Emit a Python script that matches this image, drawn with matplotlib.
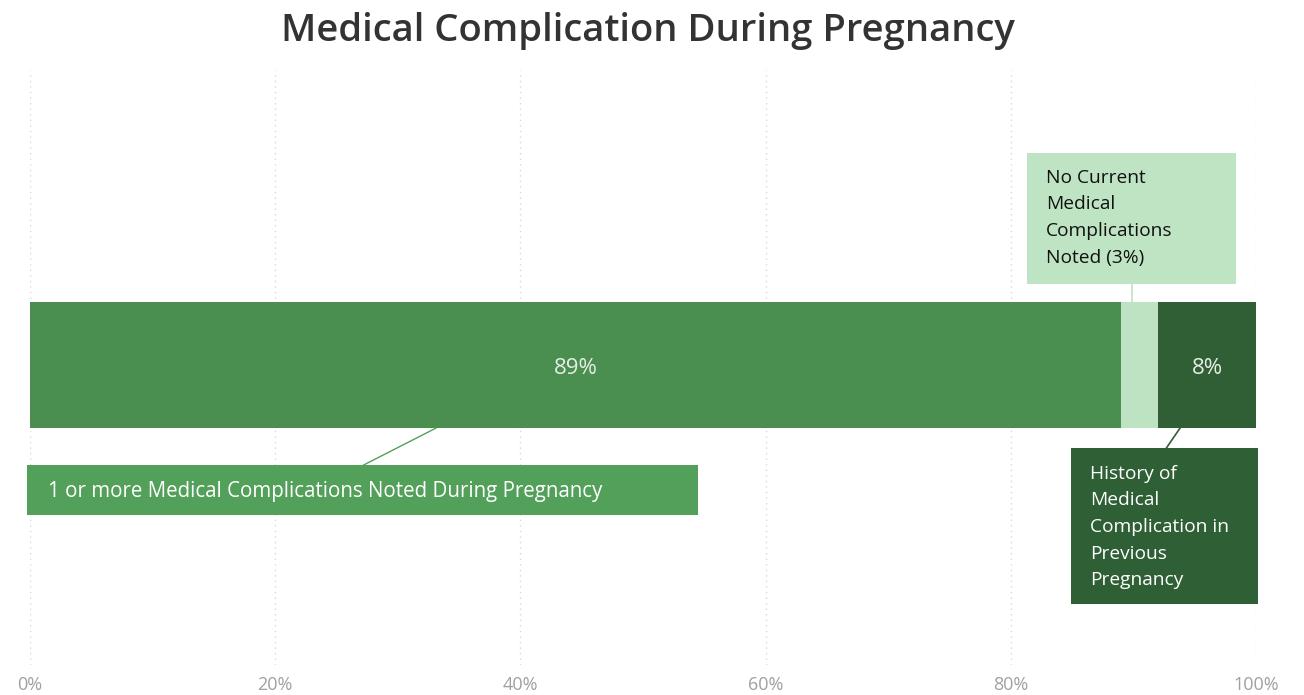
import matplotlib
matplotlib.use("Agg")
import matplotlib.pyplot as plt
from matplotlib.patches import Rectangle

# ---- data ----
categories = ["1 or more Medical Complications Noted During Pregnancy",
              "No Current Medical Complications Noted (3%)",
              "History of Medical Complication in Previous Pregnancy"]
values = [89, 3, 8]
bar_labels = ["89%", "", "8%"]
tick_values = [0, 20, 40, 60, 80, 100]
tick_labels = ["0%", "20%", "40%", "60%", "80%", "100%"]
title = "Medical Complication During Pregnancy"

colors = ["#4A8E50", "#BEE3C2", "#305F35"]

plt.rcParams['font.family'] = ['Open Sans', 'DejaVu Sans']

fig = plt.figure(figsize=(13.04, 6.95), dpi=100)
ax = fig.add_axes([30/1304, 30/695, 1226/1304, 595/695])
ax.set_xlim(0, 100)
ax.set_ylim(0, 1)

bar_y = 0.504
bar_h = 0.212
left = 0
for v, c, lab in zip(values, colors, bar_labels):
    ax.barh(bar_y, v, left=left, height=bar_h, color=c, edgecolor='none', zorder=2)
    if lab:
        ax.text(left + v / 2, bar_y - 0.006, lab, ha='center', va='center',
                color='#E6EFE6', fontsize=16, zorder=3)
    left += v

# gridlines
for t in tick_values:
    ax.axvline(t, color='#D8D8D8', lw=1, ls=(0, (1, 3)), zorder=0)

ax.set_xticks(tick_values)
ax.set_xticklabels(tick_labels, color='#A0A0A0', fontsize=13)
ax.tick_params(axis='x', length=0, pad=8)
ax.set_yticks([])
for s in ax.spines.values():
    s.set_visible(False)

fig.text(0.497, 0.955, title, ha='center', va='center', fontsize=27.5,
         color='#333333', fontweight='semibold')

bar_top = bar_y + bar_h / 2
bar_bot = bar_y - bar_h / 2

def box(x0, x1, y0, y1, fc, text, tc, fs, pad_x, yc, ls=1.62):
    ax.add_patch(Rectangle((x0, y0), x1 - x0, y1 - y0, facecolor=fc,
                           edgecolor='none', clip_on=False, zorder=4))
    ax.text(x0 + pad_x, yc, text, ha='left', va='center', color=tc,
            fontsize=fs, linespacing=ls, zorder=5, clip_on=False)

# connector lines
light_mid = values[0] + values[1] / 2
ax.plot([light_mid - 0.6, light_mid - 0.6], [0.640, bar_top], color=colors[1], lw=1.2,
        zorder=1, clip_on=False)
ax.plot([27.2, 33.1], [0.336, bar_bot], color='#52A05A', lw=1, zorder=1, clip_on=False)
ax.plot([92.7, 93.8], [0.365, bar_bot], color=colors[2], lw=1.2, zorder=1, clip_on=False)

box(81.3, 98.4, 0.640, 0.861, '#BFE4C3',
    "No Current\nMedical\nComplications\nNoted (3%)", '#111111', 13.8, 1.55, 0.752)
box(-0.24, 54.5, 0.252, 0.336, '#52A05A',
    "1 or more Medical Complications Noted During Pregnancy", '#FFFFFF', 14.8, 1.7, 0.292)
box(84.9, 100.2, 0.103, 0.365, '#2F5F35',
    "History of\nMedical\nComplication in\nPrevious\nPregnancy", '#FFFFFF', 13.8, 1.6, 0.232)

fig.savefig("out.png", dpi=100)
